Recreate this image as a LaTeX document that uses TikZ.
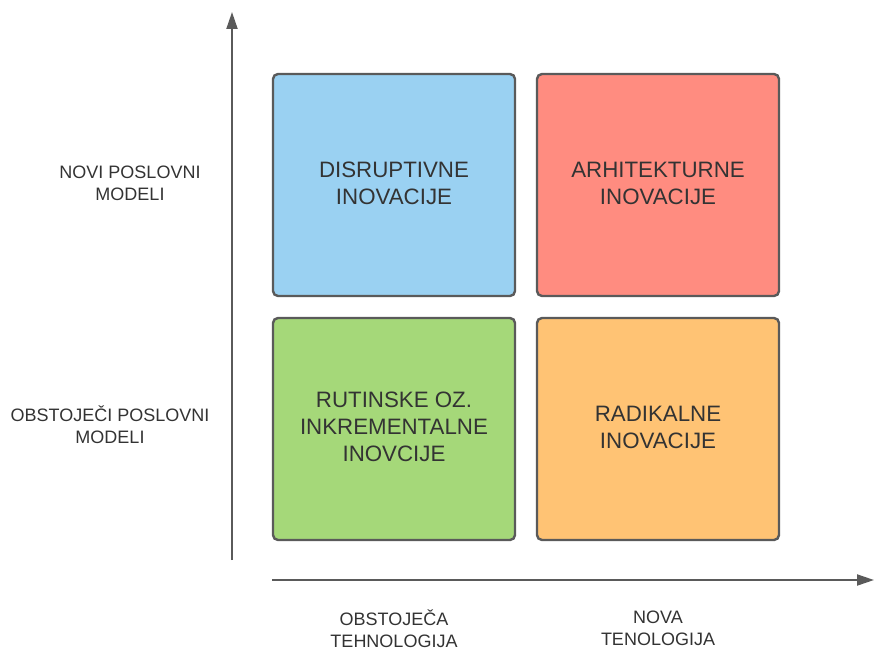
\documentclass[tikz,border=0pt]{standalone}
\usepackage{fontspec}
\setmainfont{Liberation Sans}
\usetikzlibrary{arrows.meta}
\definecolor{edge}{HTML}{5A5A5A}
\definecolor{ink}{HTML}{333333}
\definecolor{qblue}{HTML}{9AD1F2}
\definecolor{qred}{HTML}{FF8C80}
\definecolor{qgreen}{HTML}{A5D879}
\definecolor{qorange}{HTML}{FFC374}
\begin{document}
\begin{tikzpicture}[x=1pt,y=-1pt,
  quad/.style={draw=edge,line width=2.4pt,rounded corners=5pt,minimum width=242pt,minimum height=222pt},
  qtext/.style={text=ink,align=center,font=\fontsize{22.3}{27}\selectfont,inner sep=0pt},
  lbl/.style={text=ink,align=center,font=\fontsize{18}{22}\selectfont,inner sep=0pt},
  axis/.style={draw=edge,line width=2pt,-{Triangle[length=17pt,width=11pt]}}]
\useasboundingbox (0,0) rectangle (874,650);
% the four quadrants
\node[quad,fill=qblue]   (dis) at (394,185) {};
\node[quad,fill=qred]    (arh) at (658,185) {};
\node[quad,fill=qgreen]  (rut) at (394,429) {};
\node[quad,fill=qorange] (rad) at (658,429) {};
\node[qtext] (tdis) at ([yshift=2pt]dis.center) {DISRUPTIVNE\\INOVACIJE};
\node[qtext] (tarh) at ([yshift=2pt]arh.center) {ARHITEKTURNE\\INOVACIJE};
\node[qtext] (trut) at ([yshift=2pt]rut.center) {RUTINSKE OZ.\\INKREMENTALNE\\INOVCIJE};
\node[qtext] (trad) at ([yshift=2pt]rad.center) {RADIKALNE\\INOVACIJE};
% axes
\coordinate (ys) at (232,560);
\coordinate (ye) at (232,12);
\coordinate (xs) at (272,580);
\coordinate (xe) at (874,580);
\draw[axis] (ys) -- (ye);
\draw[axis] (xs) -- (xe);
% axis labels
\node[lbl] (novi) at (130,183) {NOVI POSLOVNI\\MODELI};
\node[lbl] (obs) at (110,425) {OBSTOJEČI POSLOVNI\\MODELI};
\node[lbl] (obt) at (394,629) {OBSTOJEČA\\TEHNOLOGIJA};
\node[lbl] (nov) at (658,628) {NOVA\\TENOLOGIJA};
\end{tikzpicture}
\end{document}
